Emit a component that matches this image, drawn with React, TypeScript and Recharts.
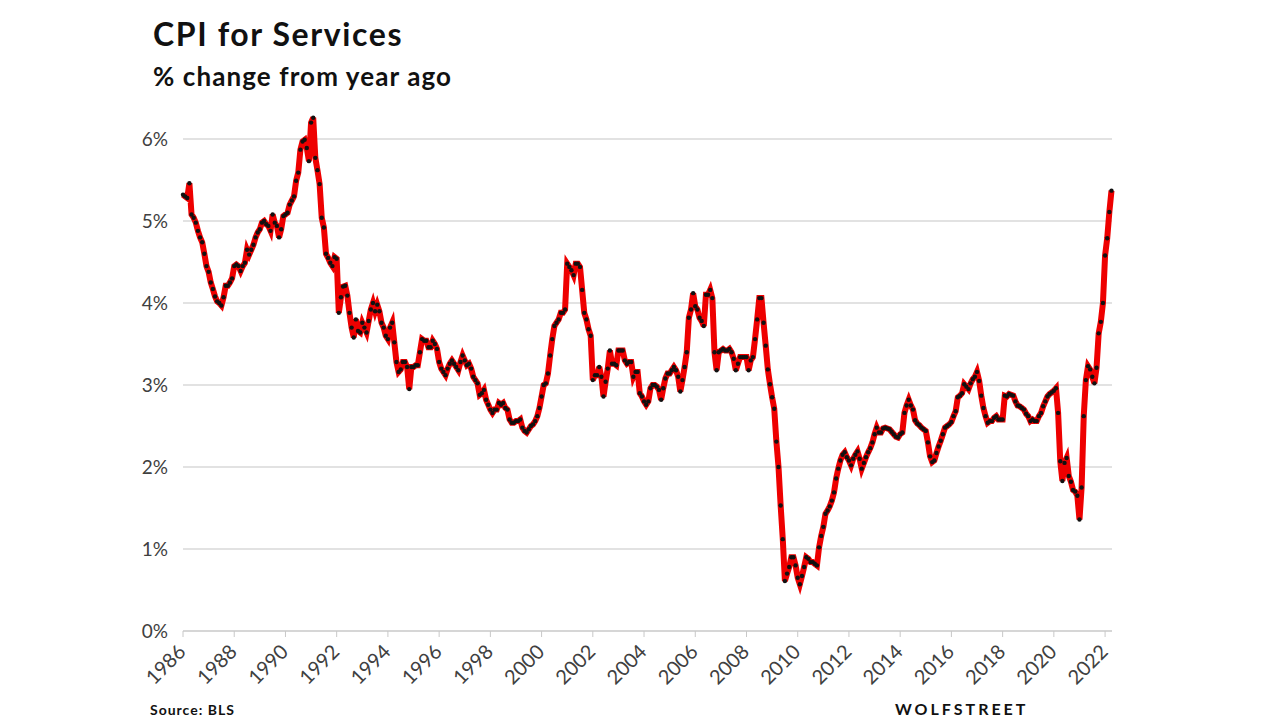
import React from "react";
import { LineChart, Line, XAxis, YAxis, ReferenceLine } from "recharts";

const START_YEAR = 1986;

const cpi1986to1991 = [
  5.32, 5.30, 5.28, 5.46, 5.08, 5.04, 4.98, 4.88, 4.80, 4.74, 4.60, 4.45,
  4.38, 4.25, 4.17, 4.08, 4.02, 4.00, 3.97, 4.07, 4.21, 4.21, 4.25, 4.30,
  4.45, 4.47, 4.45, 4.39, 4.45, 4.49, 4.65, 4.59, 4.65, 4.71, 4.80, 4.86,
  4.90, 4.98, 5.00, 4.96, 4.94, 4.88, 5.08, 4.98, 4.94, 4.80, 4.90, 5.06,
  5.08, 5.10, 5.20, 5.25, 5.30, 5.49, 5.59, 5.87, 5.97, 5.99, 5.89, 5.73,
  6.20, 6.26, 5.77, 5.62, 5.45, 5.04, 4.92, 4.60, 4.55, 4.49, 4.45, 4.56,
];

const cpi1992to1997 = [
  4.54, 3.88, 4.07, 4.20, 4.21, 4.09, 3.88, 3.70, 3.58, 3.80, 3.66, 3.64,
  3.76, 3.70, 3.64, 3.78, 3.92, 4.00, 3.90, 3.98, 3.90, 3.76, 3.70, 3.60,
  3.56, 3.70, 3.76, 3.52, 3.28, 3.16, 3.19, 3.28, 3.28, 3.22, 2.95, 3.22,
  3.22, 3.24, 3.24, 3.40, 3.56, 3.54, 3.54, 3.46, 3.46, 3.54, 3.50, 3.44,
  3.28, 3.20, 3.16, 3.12, 3.20, 3.26, 3.30, 3.26, 3.22, 3.18, 3.28, 3.36,
  3.30, 3.24, 3.26, 3.20, 3.10, 3.06, 3.02, 2.88, 2.90, 2.94, 2.82, 2.76,
];

const cpi1998to2003 = [
  2.70, 2.66, 2.70, 2.70, 2.78, 2.76, 2.78, 2.72, 2.70, 2.58, 2.54, 2.54,
  2.56, 2.56, 2.58, 2.48, 2.44, 2.42, 2.46, 2.50, 2.52, 2.56, 2.62, 2.72,
  2.86, 3.00, 3.02, 3.14, 3.36, 3.56, 3.72, 3.76, 3.80, 3.88, 3.88, 3.92,
  4.48, 4.44, 4.40, 4.34, 4.48, 4.48, 4.44, 4.16, 3.88, 3.80, 3.68, 3.60,
  3.06, 3.12, 3.12, 3.22, 3.10, 2.86, 3.04, 3.20, 3.42, 3.26, 3.26, 3.24,
  3.42, 3.42, 3.42, 3.30, 3.26, 3.28, 3.28, 3.10, 3.16, 3.16, 2.90, 2.86,
];

const cpi2004to2009 = [
  2.80, 2.76, 2.80, 2.96, 3.00, 3.00, 2.98, 2.94, 2.82, 2.96, 3.08, 3.14,
  3.14, 3.18, 3.22, 3.18, 3.10, 2.92, 3.06, 3.22, 3.40, 3.82, 3.92, 4.12,
  3.96, 3.92, 3.82, 3.78, 3.72, 4.10, 4.10, 4.16, 4.06, 3.40, 3.18, 3.40,
  3.42, 3.44, 3.42, 3.42, 3.44, 3.40, 3.32, 3.18, 3.26, 3.34, 3.34, 3.34,
  3.34, 3.18, 3.30, 3.34, 3.56, 3.80, 4.06, 4.06, 3.76, 3.48, 3.19, 3.01,
  2.85, 2.71, 2.31, 2.00, 1.53, 1.12, 0.61, 0.70, 0.78, 0.90, 0.90, 0.80,
];

const cpi2010to2015 = [
  0.65, 0.57, 0.67, 0.78, 0.90, 0.88, 0.84, 0.84, 0.82, 0.80, 1.02, 1.16,
  1.27, 1.43, 1.47, 1.52, 1.59, 1.69, 1.86, 1.98, 2.08, 2.15, 2.18, 2.12,
  2.08, 2.02, 2.10, 2.15, 2.19, 2.10, 1.98, 2.05, 2.12, 2.18, 2.23, 2.30,
  2.40, 2.48, 2.42, 2.42, 2.47, 2.48, 2.47, 2.46, 2.43, 2.40, 2.37, 2.36,
  2.40, 2.42, 2.66, 2.75, 2.82, 2.75, 2.70, 2.57, 2.53, 2.51, 2.48, 2.46,
  2.44, 2.30, 2.13, 2.06, 2.08, 2.17, 2.25, 2.32, 2.40, 2.48, 2.50, 2.52,
];

const cpi2016to2022 = [
  2.55, 2.62, 2.68, 2.85, 2.87, 2.90, 3.01, 2.98, 2.95, 3.02, 3.07, 3.10,
  3.16, 3.05, 2.87, 2.72, 2.62, 2.54, 2.56, 2.56, 2.60, 2.62, 2.58, 2.58,
  2.58, 2.87, 2.86, 2.89, 2.88, 2.87, 2.80, 2.75, 2.74, 2.72, 2.70, 2.65,
  2.62, 2.56, 2.58, 2.56, 2.56, 2.62, 2.66, 2.74, 2.80, 2.86, 2.89, 2.91,
  2.93, 2.96, 2.66, 2.07, 1.83, 2.05, 2.11, 1.89, 1.82, 1.72, 1.70, 1.65,
  1.36, 1.75, 2.62, 3.06, 3.23, 3.19, 3.10, 3.02, 3.21, 3.63, 3.77, 4.00,
  4.58, 4.79, 5.11, 5.37,
];

const yearTicks = [
  1986, 1988, 1990, 1992, 1994, 1996, 1998, 2000, 2002, 2004, 2006, 2008,
  2010, 2012, 2014, 2016, 2018, 2020, 2022,
];
const pctTicks = [0, 1, 2, 3, 4, 5, 6];

const allValues = [
  ...cpi1986to1991,
  ...cpi1992to1997,
  ...cpi1998to2003,
  ...cpi2004to2009,
  ...cpi2010to2015,
  ...cpi2016to2022,
];

const data = allValues.map((v, i) => ({ t: START_YEAR + i / 12, v }));

const FONT = "Lato, 'Open Sans', sans-serif";

const XTick = (props: any) => {
  const { x, y, payload } = props;
  return (
    <g transform={`translate(${x + 4},${y + 14})`}>
      <text
        x={0}
        y={0}
        textAnchor="end"
        transform="rotate(-45)"
        fill="#404040"
        fontSize={20}
        fontFamily={FONT}
      >
        {payload.value}
      </text>
    </g>
  );
};

export default function App() {
  return (
    <div
      style={{
        position: "fixed",
        left: 0,
        top: 0,
        width: 1280,
        height: 720,
        background: "#fff",
        overflow: "hidden",
      }}
    >
      <LineChart
        width={1280}
        height={720}
        data={data}
        margin={{ top: 98, right: 168, left: 123, bottom: 9 }}
      >
        <XAxis
          dataKey="t"
          type="number"
          domain={[1986, 2022.27]}
          ticks={yearTicks}
          interval={0}
          height={80}
          axisLine={{ stroke: "#c8c8c8", strokeWidth: 1.3 }}
          tickLine={{ stroke: "#c8c8c8" }}
          tickSize={6}
          tick={<XTick />}
        />
        <YAxis
          type="number"
          domain={[0, 6.5]}
          ticks={pctTicks}
          width={60}
          axisLine={false}
          tickLine={false}
          tickMargin={9}
          tickFormatter={(v: number) => `${v}%`}
          tick={{ fill: "#404040", fontSize: 19, fontFamily: FONT }}
        />
        {pctTicks.slice(1).map((t) => (
          <ReferenceLine key={t} y={t} stroke="#d9d9d9" strokeWidth={1.3} />
        ))}
        <Line
          type="linear"
          dataKey="v"
          stroke="#ee0000"
          strokeWidth={6}
          dot={{ r: 2.2, fill: "#111", stroke: "none" }}
          isAnimationActive={false}
        />
      </LineChart>
      <svg
        width={1280}
        height={720}
        style={{ position: "absolute", left: 0, top: 0, pointerEvents: "none" }}
      >
        <text x={153} y={46} fontFamily={FONT} fontWeight={700} fontSize={32} letterSpacing={1.6} fill="#111">
          CPI for Services
        </text>
        <text x={153} y={86} fontFamily={FONT} fontWeight={700} fontSize={26} letterSpacing={1.1} fill="#111">
          % change from year ago
        </text>
        <text x={150} y={715} fontFamily={FONT} fontWeight={700} fontSize={14} letterSpacing={1} fill="#111">
          Source: BLS
        </text>
        <text x={895} y={715} fontFamily={FONT} fontWeight={700} fontSize={16} letterSpacing={3} fill="#111">
          WOLFSTREET
        </text>
      </svg>
    </div>
  );
}
